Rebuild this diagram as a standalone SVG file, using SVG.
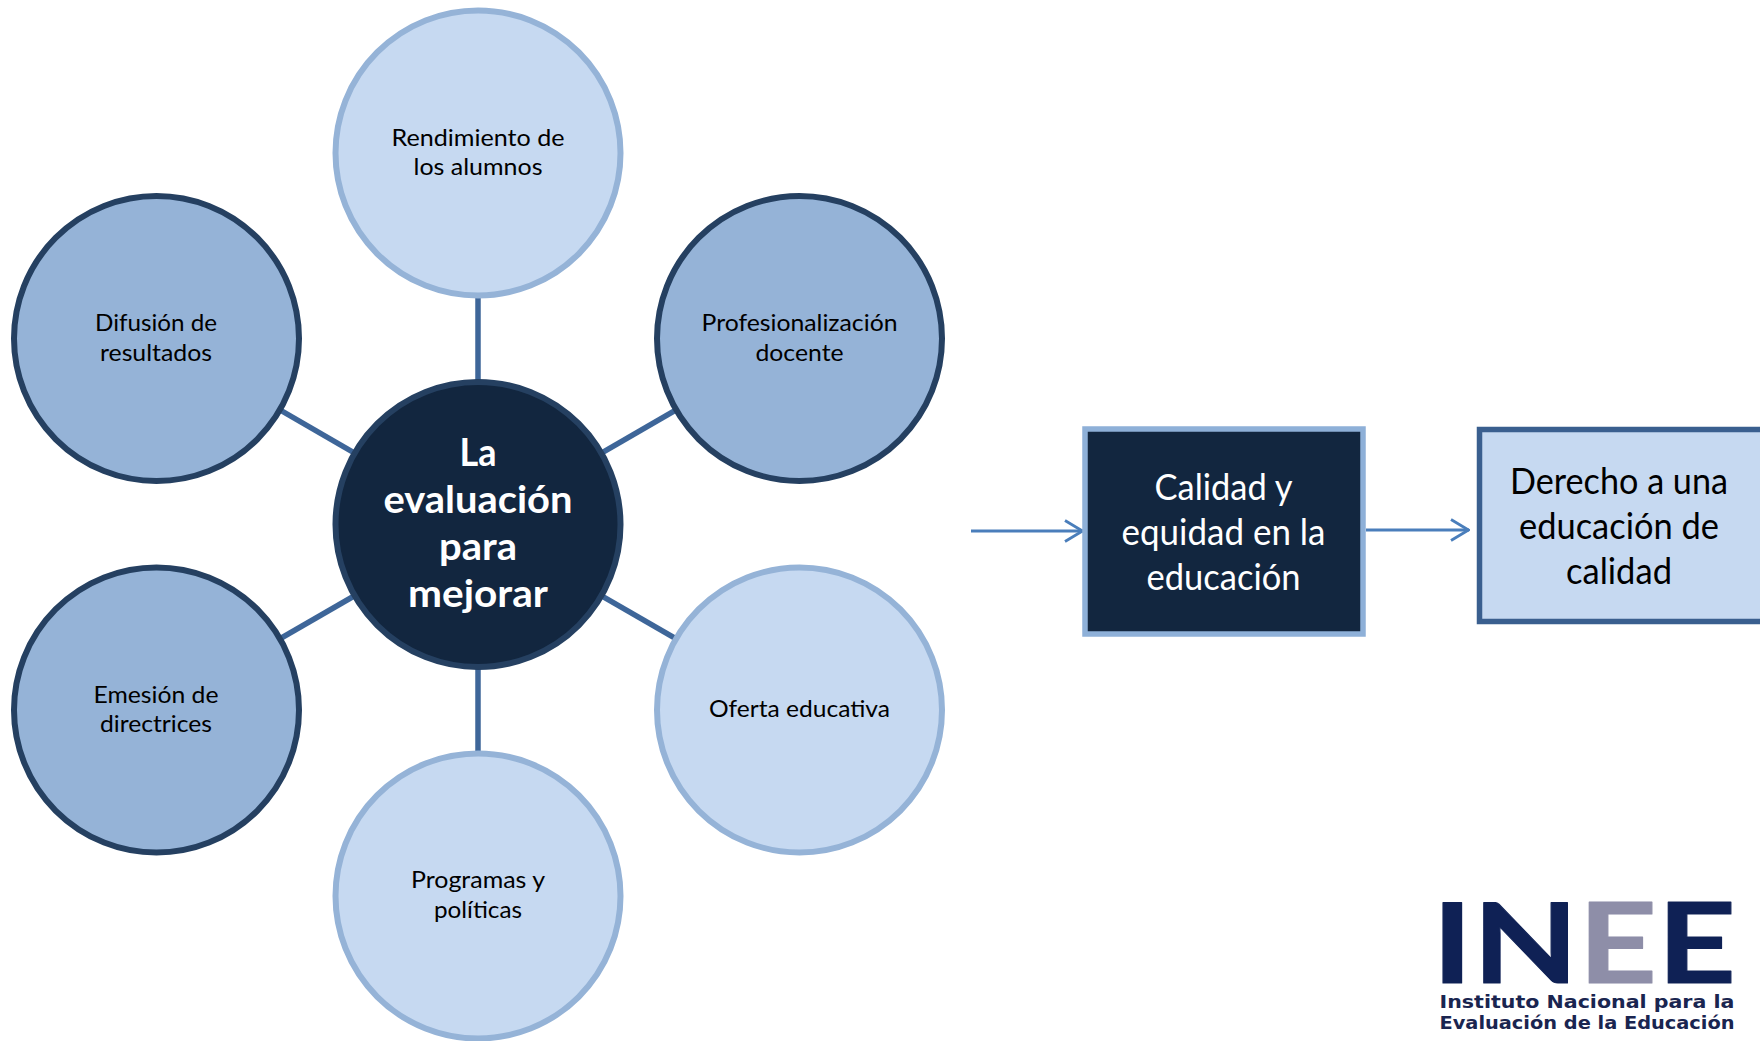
<svg xmlns="http://www.w3.org/2000/svg" width="1760" height="1041" viewBox="0 0 1760 1041">
<defs>
<marker id="open" viewBox="0 0 20 24" refX="19" refY="12" markerUnits="userSpaceOnUse" markerWidth="20" markerHeight="24" orient="auto"><path d="M1 1.5 L18.5 12 L1 22.5" fill="none" stroke="#4a7ebb" stroke-width="2.8"/></marker>
</defs>
<style>
text{font-family:Lato,"Open Sans","Liberation Sans",sans-serif;text-anchor:middle}
.lt{fill:#c6d9f1;stroke:#95b3d7;stroke-width:6}
.md{fill:#95b3d7;stroke:#254061;stroke-width:6}
.ct{fill:#12263f;stroke:#254061;stroke-width:6}
.n{font-size:24px;fill:#000}
.c{font-size:38px;font-weight:700;fill:#fff}
.b{font-size:37px}
.w{fill:#fff}
.k{fill:#000}
.spoke{stroke:#3e6699;stroke-width:5.5;fill:none}
.arr{stroke:#4a7ebb;stroke-width:2.8;fill:none;marker-end:url(#open)}
.l{font-family:"DejaVu Sans",sans-serif;font-size:17px;font-weight:700;fill:#1a2550}
.logo{font-size:112px;font-weight:700;stroke-width:1;stroke-linejoin:round;text-anchor:start}
.navy{fill:#0f2155;stroke:#0f2155}
.grey{fill:#8e8ea8;stroke:#8e8ea8}
</style>
<rect width="1760" height="1041" fill="#fff"/>
<g id="connectors">
<line class="spoke" x1="478" y1="524.5" x2="478" y2="153"/>
<line class="spoke" x1="478" y1="524.5" x2="799.5" y2="338.5"/>
<line class="spoke" x1="478" y1="524.5" x2="799.5" y2="710"/>
<line class="spoke" x1="478" y1="524.5" x2="478" y2="896"/>
<line class="spoke" x1="478" y1="524.5" x2="156.5" y2="710"/>
<line class="spoke" x1="478" y1="524.5" x2="156.5" y2="338.5"/>
<line class="arr" x1="971" y1="531" x2="1083" y2="531"/>
<line class="arr" x1="1366" y1="530" x2="1469" y2="530"/>
</g>
<g id="node-rendimiento"><circle class="lt" cx="478" cy="153" r="142.5"/>
<text class="n" x="478" y="146" textLength="173" lengthAdjust="spacingAndGlyphs">Rendimiento de</text>
<text class="n" x="478" y="175" textLength="129" lengthAdjust="spacingAndGlyphs">los alumnos</text></g>
<g id="node-profesionalizacion"><circle class="md" cx="799.5" cy="338.5" r="142.5"/>
<text class="n" x="799.5" y="331" textLength="196" lengthAdjust="spacingAndGlyphs">Profesionalización</text>
<text class="n" x="799.5" y="361" textLength="88" lengthAdjust="spacingAndGlyphs">docente</text></g>
<g id="node-oferta"><circle class="lt" cx="799.5" cy="710" r="142.5"/>
<text class="n" x="799.5" y="717" textLength="181" lengthAdjust="spacingAndGlyphs">Oferta educativa</text></g>
<g id="node-programas"><circle class="lt" cx="478" cy="896" r="142.5"/>
<text class="n" x="478" y="888" textLength="134" lengthAdjust="spacingAndGlyphs">Programas y</text>
<text class="n" x="478" y="918" textLength="88" lengthAdjust="spacingAndGlyphs">políticas</text></g>
<g id="node-emesion"><circle class="md" cx="156.5" cy="710" r="142.5"/>
<text class="n" x="156" y="703" textLength="125" lengthAdjust="spacingAndGlyphs">Emesión de</text>
<text class="n" x="156" y="732" textLength="112" lengthAdjust="spacingAndGlyphs">directrices</text></g>
<g id="node-difusion"><circle class="md" cx="156.5" cy="338.5" r="142.5"/>
<text class="n" x="156" y="331" textLength="122" lengthAdjust="spacingAndGlyphs">Difusión de</text>
<text class="n" x="156" y="361" textLength="112" lengthAdjust="spacingAndGlyphs">resultados</text></g>
<g id="node-centro"><circle class="ct" cx="478" cy="524.5" r="142.5"/>
<text class="c" x="478" y="466" textLength="37" lengthAdjust="spacingAndGlyphs">La</text>
<text class="c" x="478" y="513" textLength="189" lengthAdjust="spacingAndGlyphs">evaluación</text>
<text class="c" x="478" y="560" textLength="78" lengthAdjust="spacingAndGlyphs">para</text>
<text class="c" x="478" y="607" textLength="140" lengthAdjust="spacingAndGlyphs">mejorar</text></g>
<g id="node-calidad"><rect x="1085" y="429" width="278" height="205" fill="#12263f" stroke="#8eb0d8" stroke-width="5.5"/>
<text class="b w" x="1223.5" y="500" textLength="138" lengthAdjust="spacingAndGlyphs">Calidad y</text>
<text class="b w" x="1223.5" y="545" textLength="204" lengthAdjust="spacingAndGlyphs">equidad en la</text>
<text class="b w" x="1223.5" y="590" textLength="154" lengthAdjust="spacingAndGlyphs">educación</text></g>
<g id="node-derecho"><rect x="1479.5" y="429.5" width="290" height="192" fill="#c6d9f1" stroke="#3a5f8f" stroke-width="5.5"/>
<text class="b k" x="1619" y="494" textLength="218" lengthAdjust="spacingAndGlyphs">Derecho a una</text>
<text class="b k" x="1619" y="539" textLength="200" lengthAdjust="spacingAndGlyphs">educación de</text>
<text class="b k" x="1619" y="584" textLength="106" lengthAdjust="spacingAndGlyphs">calidad</text></g>
<g id="logo">
<text class="logo navy" x="1432" y="983" textLength="304" lengthAdjust="spacingAndGlyphs">IN<tspan class="grey">E</tspan>E</text>
<text class="l" x="1587" y="1008" textLength="295" lengthAdjust="spacingAndGlyphs">Instituto Nacional para la</text>
<text class="l" x="1587" y="1029" textLength="295" lengthAdjust="spacingAndGlyphs">Evaluación de la Educación</text>
</g>
</svg>
